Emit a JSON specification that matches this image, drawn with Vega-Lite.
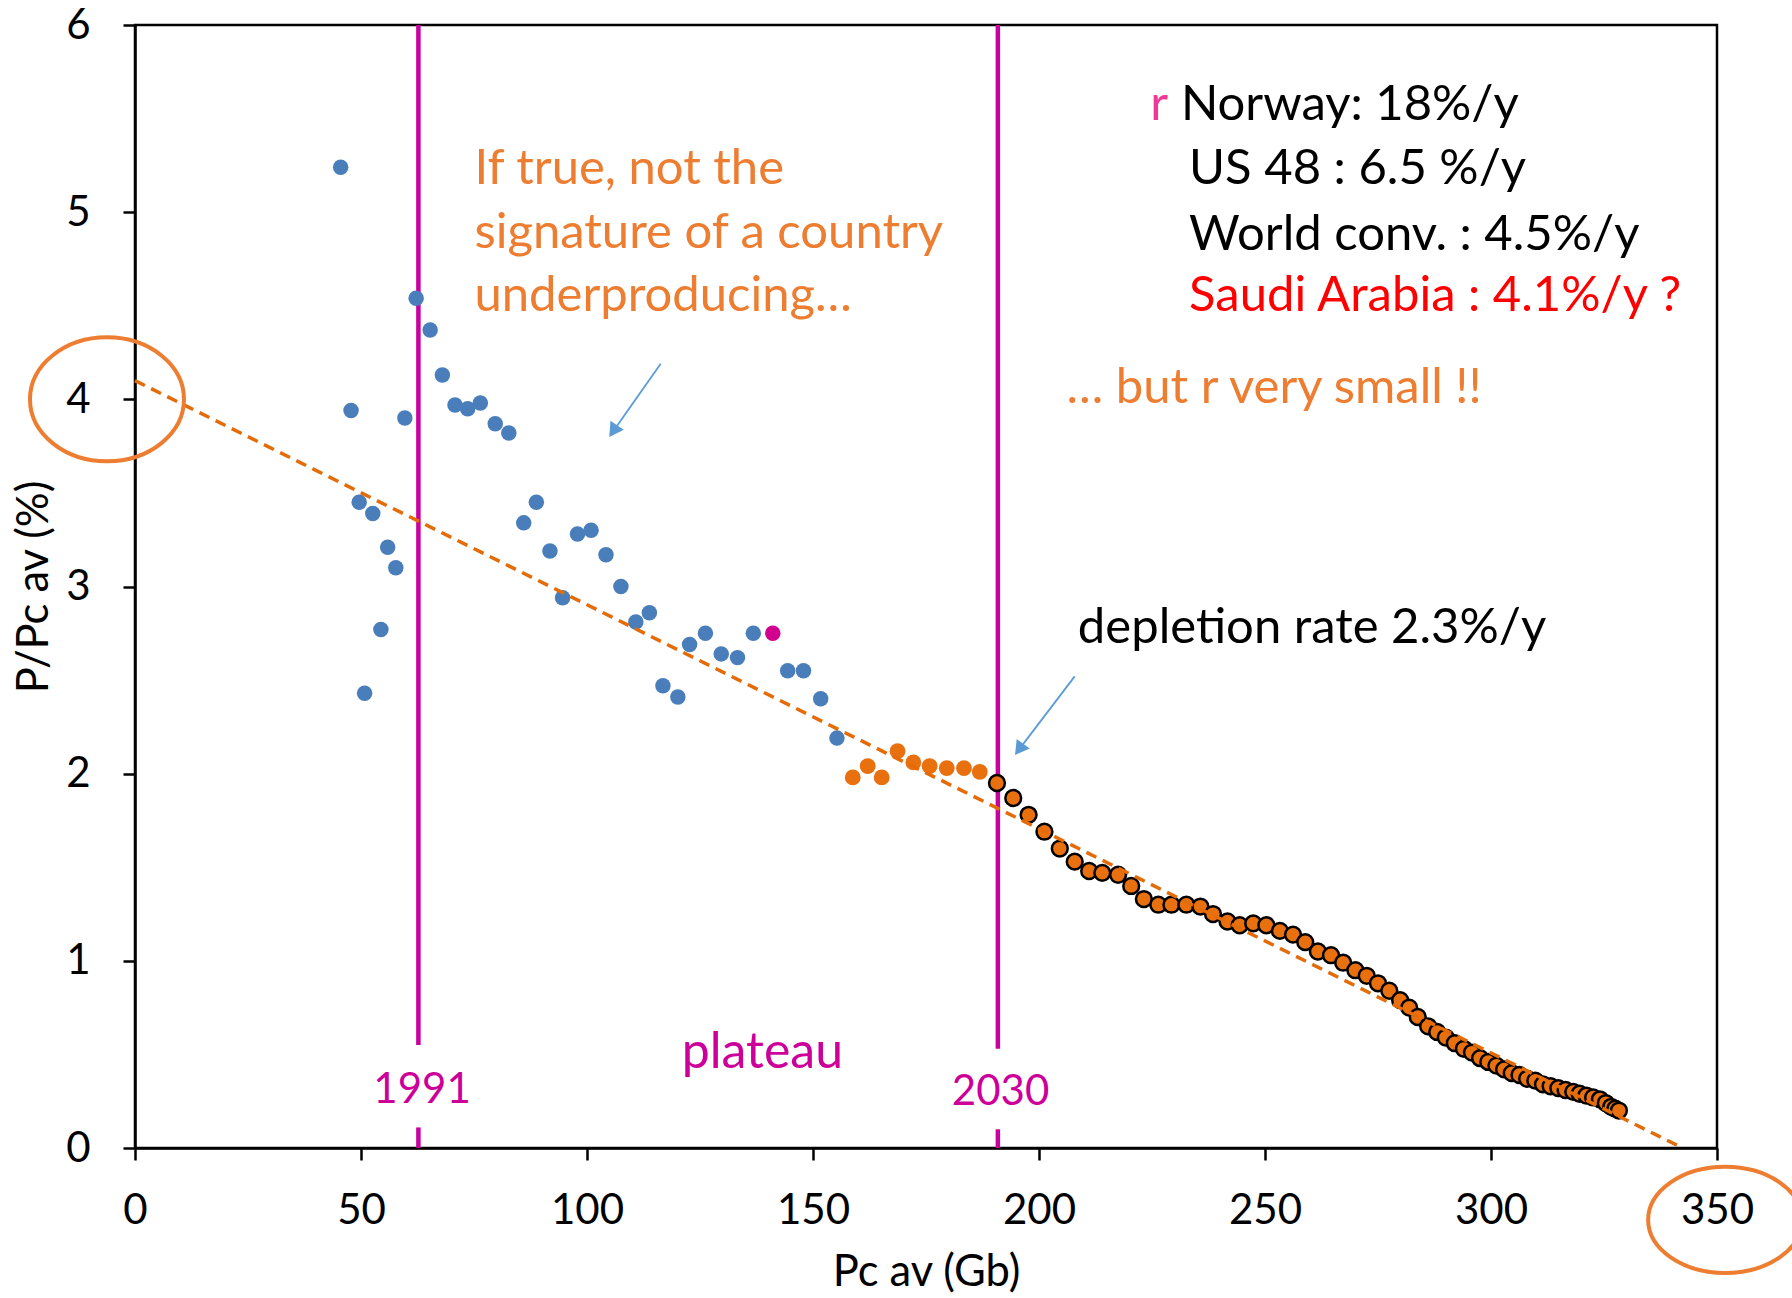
{
  "$schema": "https://vega.github.io/schema/vega-lite/v6.json",
  "autosize": {"type": "none"},
  "width": 1582,
  "height": 1123,
  "padding": {"left": 135, "top": 25, "right": 75, "bottom": 150},
  "background": "white",
  "config": {
    "view": {"stroke": "black", "strokeWidth": 2.5},
    "font": "Lato",
    "axis": {
      "grid": false, "domainColor": "black", "domainWidth": 2.5, "tickColor": "black", "tickWidth": 2.5, "tickSize": 12,
      "labelFont": "Lato", "labelFontSize": 42, "labelColor": "black", "labelFlush": false, "labelOverlap": false,
      "titleFont": "Lato", "titleFontSize": 43.5, "titleFontWeight": "normal", "titleColor": "black"
    }
  },
  "datasets": {
    "pts": [
      {"x": 45.5, "y": 5.24, "g": "h"}, {"x": 47.8, "y": 3.94, "g": "h"}, {"x": 49.6, "y": 3.45, "g": "h"},
      {"x": 50.8, "y": 2.43, "g": "h"}, {"x": 52.6, "y": 3.39, "g": "h"}, {"x": 54.4, "y": 2.77, "g": "h"},
      {"x": 55.9, "y": 3.21, "g": "h"}, {"x": 57.7, "y": 3.10, "g": "h"}, {"x": 59.7, "y": 3.90, "g": "h"},
      {"x": 62.2, "y": 4.54, "g": "h"}, {"x": 65.3, "y": 4.37, "g": "h"}, {"x": 68.0, "y": 4.13, "g": "h"},
      {"x": 70.8, "y": 3.97, "g": "h"}, {"x": 73.6, "y": 3.95, "g": "h"}, {"x": 76.4, "y": 3.98, "g": "h"},
      {"x": 79.7, "y": 3.87, "g": "h"}, {"x": 82.7, "y": 3.82, "g": "h"}, {"x": 86.0, "y": 3.34, "g": "h"},
      {"x": 88.8, "y": 3.45, "g": "h"}, {"x": 91.8, "y": 3.19, "g": "h"}, {"x": 94.6, "y": 2.94, "g": "h"},
      {"x": 97.9, "y": 3.28, "g": "h"}, {"x": 100.9, "y": 3.30, "g": "h"}, {"x": 104.2, "y": 3.17, "g": "h"},
      {"x": 107.5, "y": 3.00, "g": "h"}, {"x": 110.8, "y": 2.81, "g": "h"}, {"x": 113.8, "y": 2.86, "g": "h"},
      {"x": 116.8, "y": 2.47, "g": "h"}, {"x": 120.1, "y": 2.41, "g": "h"}, {"x": 122.7, "y": 2.69, "g": "h"},
      {"x": 126.2, "y": 2.75, "g": "h"}, {"x": 129.7, "y": 2.64, "g": "h"}, {"x": 133.3, "y": 2.62, "g": "h"},
      {"x": 136.8, "y": 2.75, "g": "h"}, {"x": 141.1, "y": 2.75, "g": "m"}, {"x": 144.4, "y": 2.55, "g": "h"},
      {"x": 147.9, "y": 2.55, "g": "h"}, {"x": 151.7, "y": 2.40, "g": "h"}, {"x": 155.3, "y": 2.19, "g": "h"},
      {"x": 158.8, "y": 1.98, "g": "p"}, {"x": 162.1, "y": 2.04, "g": "p"}, {"x": 165.2, "y": 1.98, "g": "p"},
      {"x": 168.7, "y": 2.12, "g": "p"}, {"x": 172.2, "y": 2.06, "g": "p"}, {"x": 175.8, "y": 2.04, "g": "p"},
      {"x": 179.6, "y": 2.03, "g": "p"}, {"x": 183.4, "y": 2.03, "g": "p"}, {"x": 186.9, "y": 2.01, "g": "p"},
      {"x": 190.7, "y": 1.95, "g": "f"}, {"x": 194.3, "y": 1.87, "g": "f"}, {"x": 197.7, "y": 1.78, "g": "f"},
      {"x": 201.2, "y": 1.69, "g": "f"}, {"x": 204.6, "y": 1.60, "g": "f"}, {"x": 207.9, "y": 1.53, "g": "f"},
      {"x": 211.1, "y": 1.48, "g": "f"}, {"x": 214.0, "y": 1.47, "g": "f"}, {"x": 217.5, "y": 1.46, "g": "f"},
      {"x": 220.4, "y": 1.40, "g": "f"}, {"x": 223.2, "y": 1.33, "g": "f"}, {"x": 226.4, "y": 1.30, "g": "f"},
      {"x": 229.3, "y": 1.30, "g": "f"}, {"x": 232.6, "y": 1.30, "g": "f"}, {"x": 235.7, "y": 1.29, "g": "f"},
      {"x": 238.5, "y": 1.25, "g": "f"}, {"x": 241.7, "y": 1.21, "g": "f"}, {"x": 244.4, "y": 1.19, "g": "f"},
      {"x": 247.4, "y": 1.20, "g": "f"}, {"x": 250.3, "y": 1.19, "g": "f"}, {"x": 253.3, "y": 1.16, "g": "f"},
      {"x": 256.2, "y": 1.14, "g": "f"}, {"x": 258.9, "y": 1.10, "g": "f"}, {"x": 261.7, "y": 1.05, "g": "f"},
      {"x": 264.6, "y": 1.03, "g": "f"}, {"x": 267.3, "y": 0.99, "g": "f"}, {"x": 270.0, "y": 0.95, "g": "f"},
      {"x": 272.5, "y": 0.92, "g": "f"}, {"x": 275.0, "y": 0.88, "g": "f"}, {"x": 277.5, "y": 0.84, "g": "f"},
      {"x": 279.9, "y": 0.79, "g": "f"}, {"x": 281.9, "y": 0.75, "g": "f"}, {"x": 283.8, "y": 0.70, "g": "f"},
      {"x": 286.1, "y": 0.65, "g": "f"}, {"x": 288.1, "y": 0.62, "g": "f"}, {"x": 290.0, "y": 0.59, "g": "f"},
      {"x": 292.0, "y": 0.56, "g": "f"}, {"x": 294.0, "y": 0.53, "g": "f"}, {"x": 295.8, "y": 0.51, "g": "f"},
      {"x": 297.6, "y": 0.48, "g": "f"}, {"x": 299.4, "y": 0.46, "g": "f"}, {"x": 301.2, "y": 0.44, "g": "f"},
      {"x": 302.9, "y": 0.42, "g": "f"}, {"x": 304.6, "y": 0.40, "g": "f"}, {"x": 306.3, "y": 0.39, "g": "f"},
      {"x": 308.0, "y": 0.37, "g": "f"}, {"x": 309.8, "y": 0.36, "g": "f"}, {"x": 311.5, "y": 0.34, "g": "f"},
      {"x": 313.2, "y": 0.33, "g": "f"}, {"x": 314.9, "y": 0.32, "g": "f"}, {"x": 316.5, "y": 0.31, "g": "f"},
      {"x": 318.2, "y": 0.30, "g": "f"}, {"x": 319.6, "y": 0.29, "g": "f"}, {"x": 321.1, "y": 0.28, "g": "f"},
      {"x": 322.6, "y": 0.27, "g": "f"}, {"x": 324.1, "y": 0.26, "g": "f"}, {"x": 325.4, "y": 0.24, "g": "f"},
      {"x": 326.6, "y": 0.22, "g": "f"}, {"x": 327.5, "y": 0.21, "g": "f"}, {"x": 328.3, "y": 0.20, "g": "f"}
    ],
    "vlines": [
      {"x": 62.7, "y": 0.55, "y2": 6}, {"x": 62.7, "y": 0, "y2": 0.11},
      {"x": 190.9, "y": 0.53, "y2": 6}, {"x": 190.9, "y": 0, "y2": 0.10}
    ],
    "trend": [{"x": 0, "y": 4.1}, {"x": 342.4, "y": 0}],
    "arrows": [
      {"x": 116.3, "y": 4.19, "x2": 105.8, "y2": 3.83, "hx": 105.8, "hy": 3.83, "a": 214},
      {"x": 207.9, "y": 2.52, "x2": 195.6, "y2": 2.13, "hx": 195.6, "hy": 2.13, "a": 216}
    ],
    "labels": [
      {"x": 75.1, "y": 5.23, "t": "If true, not the", "c": "note"},
      {"x": 75.1, "y": 4.89, "t": "signature of a country", "c": "note"},
      {"x": 75.1, "y": 4.55, "t": "underproducing…", "c": "note"},
      {"x": 206.1, "y": 4.06, "t": "… but r very small !!", "c": "note"},
      {"x": 231.4, "y": 5.57, "t": "Norway: 18%/y", "c": "black"},
      {"x": 233.2, "y": 5.23, "t": "US 48 : 6.5 %/y", "c": "black"},
      {"x": 233.2, "y": 4.88, "t": "World conv. : 4.5%/y", "c": "black"},
      {"x": 208.6, "y": 2.78, "t": "depletion rate 2.3%/y", "c": "black"},
      {"x": 233.2, "y": 4.55, "t": "Saudi Arabia : 4.1%/y ?", "c": "red"},
      {"x": 224.6, "y": 5.57, "t": "r", "c": "pink"},
      {"x": 63.5, "y": 0.31, "t": "1991", "c": "mag"},
      {"x": 191.5, "y": 0.30, "t": "2030", "c": "mag"},
      {"x": 138.8, "y": 0.51, "t": "plateau", "c": "big"}
    ],
    "rings": [
      {"x": -6.2, "y": 4.0, "k": "a"},
      {"x": 351.8, "y": -0.384, "k": "b"}
    ]
  },
  "data": {"name": "pts"},
  "encoding": {
    "x": {"field": "x", "type": "quantitative", "scale": {"domain": [0, 350], "nice": false, "zero": false},
      "axis": {"values": [0, 50, 100, 150, 200, 250, 300, 350], "title": "Pc av (Gb)", "labelPadding": 30, "titlePadding": 20}},
    "y": {"field": "y", "type": "quantitative", "scale": {"domain": [0, 6], "nice": false, "zero": false},
      "axis": {"values": [0, 1, 2, 3, 4, 5, 6], "title": "P/Pc av (%)", "labelPadding": 33, "titlePadding": 9}}
  },
  "layer": [
    {"data": {"name": "vlines"}, "mark": {"type": "rule", "color": "#C8009E", "strokeWidth": 4.5},
      "encoding": {"y2": {"field": "y2"}}},
    {"transform": [{"filter": "datum.g == 'h'"}], "mark": {"type": "point", "filled": true, "shape": "circle", "size": 240, "color": "#4A7EBB", "opacity": 1}},
    {"transform": [{"filter": "datum.g == 'm'"}], "mark": {"type": "point", "filled": true, "shape": "circle", "size": 240, "color": "#D1008F", "opacity": 1}},
    {"transform": [{"filter": "datum.g == 'p'"}], "mark": {"type": "point", "filled": true, "shape": "circle", "size": 250, "color": "#E8700F", "opacity": 1}},
    {"transform": [{"filter": "datum.g == 'f'"}], "mark": {"type": "point", "shape": "circle", "size": 250, "fill": "#E8700F", "fillOpacity": 1, "stroke": "black", "strokeWidth": 2.5, "opacity": 1}},
    {"data": {"name": "trend"}, "mark": {"type": "line", "color": "#E36C09", "strokeWidth": 3.5, "strokeDash": [11, 7]}},
    {"data": {"name": "arrows"}, "mark": {"type": "rule", "color": "#5B9BD5", "strokeWidth": 1.8},
      "encoding": {"x2": {"field": "x2"}, "y2": {"field": "y2"}}},
    {"data": {"name": "arrows"}, "mark": {"type": "point", "shape": "triangle-up", "filled": true, "size": 260, "color": "#5B9BD5", "opacity": 1},
      "encoding": {"x": {"field": "hx", "type": "quantitative"}, "y": {"field": "hy", "type": "quantitative"}, "angle": {"field": "a", "type": "quantitative", "scale": null}}},
    {"data": {"name": "labels"}, "transform": [{"filter": "datum.c == 'note'"}],
      "mark": {"type": "text", "align": "left", "baseline": "middle", "font": "Lato", "fontSize": 49, "color": "#ED7D31"},
      "encoding": {"text": {"field": "t"}}},
    {"data": {"name": "labels"}, "transform": [{"filter": "datum.c == 'black'"}],
      "mark": {"type": "text", "align": "left", "baseline": "middle", "font": "Lato", "fontSize": 49, "color": "black"},
      "encoding": {"text": {"field": "t"}}},
    {"data": {"name": "labels"}, "transform": [{"filter": "datum.c == 'red'"}],
      "mark": {"type": "text", "align": "left", "baseline": "middle", "font": "Lato", "fontSize": 49, "color": "#FF0000"},
      "encoding": {"text": {"field": "t"}}},
    {"data": {"name": "labels"}, "transform": [{"filter": "datum.c == 'pink'"}],
      "mark": {"type": "text", "align": "left", "baseline": "middle", "font": "Lato", "fontSize": 49, "color": "#EE3A96"},
      "encoding": {"text": {"field": "t"}}},
    {"data": {"name": "labels"}, "transform": [{"filter": "datum.c == 'mag'"}],
      "mark": {"type": "text", "align": "center", "baseline": "middle", "font": "Lato", "fontSize": 42, "color": "#CC0099"},
      "encoding": {"text": {"field": "t"}}},
    {"data": {"name": "labels"}, "transform": [{"filter": "datum.c == 'big'"}],
      "mark": {"type": "text", "align": "center", "baseline": "middle", "font": "Lato", "fontSize": 50, "color": "#CC0099"},
      "encoding": {"text": {"field": "t"}}},
    {"data": {"name": "rings"}, "transform": [{"filter": "datum.k == 'a'"}],
      "mark": {"type": "point", "shape": "M -1 0 C -1 -0.443 -0.552 -0.805 0 -0.805 C 0.552 -0.805 1 -0.443 1 0 C 1 0.443 0.552 0.805 0 0.805 C -0.552 0.805 -1 0.443 -1 0 Z", "size": 23716, "filled": false, "stroke": "#ED7D31", "strokeWidth": 4, "opacity": 1}},
    {"data": {"name": "rings"}, "transform": [{"filter": "datum.k == 'b'"}],
      "mark": {"type": "point", "shape": "M -1 0 C -1 -0.381 -0.552 -0.69 0 -0.69 C 0.552 -0.69 1 -0.381 1 0 C 1 0.381 0.552 0.69 0 0.69 C -0.552 0.69 -1 0.381 -1 0 Z", "size": 23716, "filled": false, "stroke": "#ED7D31", "strokeWidth": 4, "opacity": 1}}
  ]
}
